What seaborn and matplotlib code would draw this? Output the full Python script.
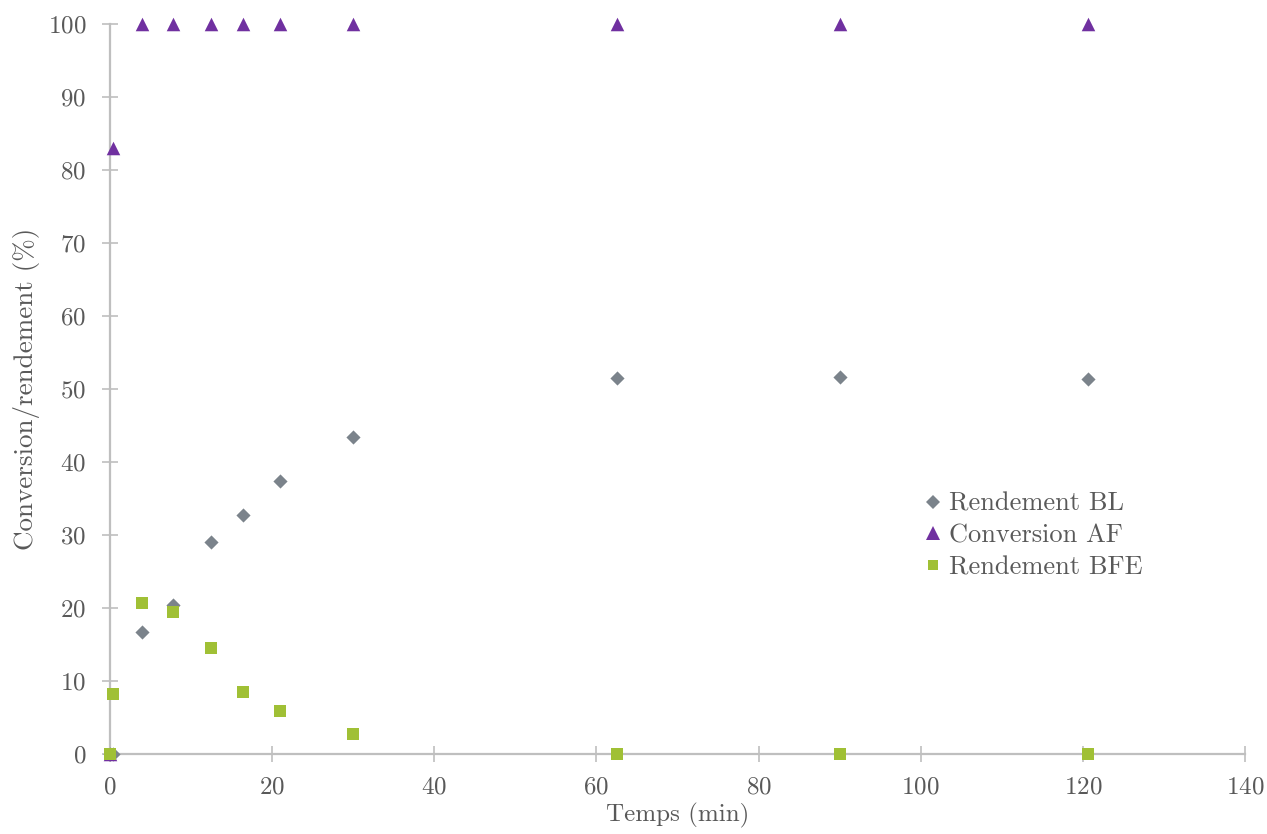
import numpy as np
import pandas as pd
import seaborn as sns
import matplotlib.pyplot as plt
from matplotlib.lines import Line2D

# DATA
temps = [0, 0.33, 4, 7.75, 12.5, 16.4, 21, 30, 62.5, 90, 120.6]
rendement_bl = [0, 0, 16.7, 20.4, 29.0, 32.7, 37.4, 43.4, 51.5, 51.6, 51.4]
conversion_af = [0, 83.0, 100, 100, 100, 100, 100, 100, 100, 100, 100]
rendement_bfe = [0, 8.2, 20.7, 19.5, 14.5, 8.5, 5.9, 2.7, 0, 0, 0]

series = ["Rendement BL", "Conversion AF", "Rendement BFE"]
colors = ["#7b838b", "#7030a0", "#a0c035"]
markers = ["D", "^", "s"]
sizes = [52, 95, 66]

data = pd.concat([
    pd.DataFrame({"temps": temps, "valeur": v, "serie": s})
    for s, v in zip(series, [rendement_bl, conversion_af, rendement_bfe])
], ignore_index=True)

sns.set_theme(style="white")
plt.rcParams["font.family"] = ["cmr10", "DejaVu Serif"]
plt.rcParams["axes.formatter.use_mathtext"] = True

grey = "#bfbfbf"
txt = "#595959"
fs = 18

fig = plt.figure(figsize=(12.67, 8.34), dpi=100)
ax = fig.add_axes([0.0868, 0.0959, 0.8958, 0.8753])

for s, c, m, sz in zip(series, colors, markers, sizes):
    sub = data[data["serie"] == s]
    sns.scatterplot(data=sub, x="temps", y="valeur", color=c, marker=m,
                    s=sz, linewidth=0, ax=ax, clip_on=False, zorder=3,
                    legend=False)

ax.set_xlim(0, 140)
ax.set_ylim(0, 100)
ax.set_xticks(np.arange(0, 141, 20))
ax.set_yticks(np.arange(0, 101, 10))
ax.set_xlabel("Temps (min)", fontsize=fs, color=txt, labelpad=3)
ax.set_ylabel("Conversion/rendement (%)", fontsize=19.5, color=txt, labelpad=6)

for side in ["top", "right"]:
    ax.spines[side].set_visible(False)
for side in ["left", "bottom"]:
    ax.spines[side].set_color(grey)
    ax.spines[side].set_linewidth(1.6)
ax.tick_params(axis="both", direction="inout", length=12, width=1.2,
               color=grey, labelcolor=txt, labelsize=fs,
               left=True, bottom=True)
ax.tick_params(axis="x", pad=10)
ax.tick_params(axis="y", pad=11)

handles = [Line2D([], [], linestyle="none", marker=m, color=c,
                  markersize=ms, markeredgewidth=0)
           for m, c, ms in zip(markers, colors, [7.5, 10, 7.5])]
leg = ax.legend(handles, series, loc="upper left",
                bbox_to_anchor=(0.7066, 0.377), frameon=False,
                fontsize=19, handlelength=0.6, handletextpad=0.3,
                labelspacing=0.3, borderpad=0)
for t in leg.get_texts():
    t.set_color(txt)

fig.savefig("out.png", dpi=100)
